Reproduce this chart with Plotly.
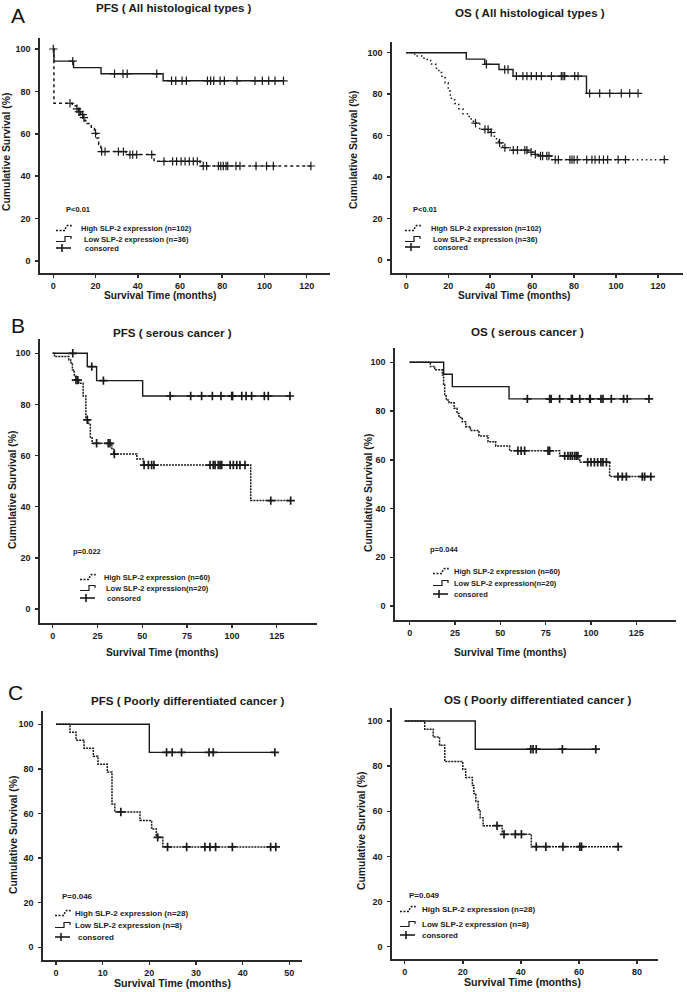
import plotly.graph_objects as go

W, H = 687, 992
FONT = "Liberation Sans, Arial, sans-serif"

# ------------------------------------------------------------------ data
# Panel A  PFS (All histological types)
a_pfs_low_t = [0, 0.3, 9.6, 22.6, 52.0]
a_pfs_low_s = [100, 94.3, 91.2, 88.3, 85.0]
a_pfs_low_end = 109
a_pfs_low_cens = [0, 9.2, 29, 33, 35, 49, 56, 58, 61, 63, 73, 74.5, 76, 79, 81,
                  87, 95.5, 99, 102, 105, 109]
a_pfs_high_t = [0, 0.3, 9, 11, 12, 13, 14, 15, 16, 18, 19.5, 20.5, 21.5, 22.5, 34.4, 47.7, 69.5]
a_pfs_high_s = [100, 74.4, 73.2, 71.8, 70.4, 69.0, 67.6, 66.2, 64.8, 62.5, 60.2, 58.0, 55.0,
                51.6, 50.2, 47.0, 44.8]
a_pfs_high_end = 122
a_pfs_high_cens = [7.9, 11.2, 12.1, 12.6, 13.9, 14.5, 20, 22.9, 24.5, 30.8, 33.2, 36.3, 37.6,
                   39.5, 46.6, 52.4, 56.5, 58.4, 60.5, 62.4, 64.4, 66.3, 68.2, 71, 72.6, 78.2,
                   79.3, 80.5, 81.8, 82.6, 86.5, 88.4, 96, 101, 104.2, 122]

# Panel A  OS (All histological types)
a_os_low_t = [0, 28.6, 37.4, 44.2, 50.9, 85.9]
a_os_low_s = [100, 96.9, 94.4, 91.9, 88.7, 80.4]
a_os_low_end = 110.5
a_os_low_cens = [38.2, 46.9, 48.5, 52.5, 55.6, 57.5, 59.6, 62, 64.4, 69.2, 73.9, 74.7, 75.5,
                 80.3, 81.9, 87.4, 92.2, 97, 102.5, 106.5, 110.5]
a_os_high_t = [0, 4, 8, 10, 12, 14, 15.5, 17, 18.5, 20, 21, 23, 25, 27, 30, 32, 35, 40, 42, 44,
               46, 50, 58, 61, 63, 69]
a_os_high_s = [100, 98.4, 97.3, 96.2, 94.5, 92.5, 90.5, 88.0, 85.5, 81.5, 78.0, 75.5, 73.0,
               70.5, 68.0, 66.0, 63.0, 61.5, 58.5, 56.5, 54.2, 53.0, 52.0, 51.0, 50.2, 48.4]
a_os_high_end = 123
a_os_high_cens = [33, 37.5, 39, 40.5, 44.5, 47, 51, 53, 56.5, 57.5, 59.5, 61.5, 64, 65, 67, 68,
                  71, 72.5, 78, 79, 80, 81.5, 86, 88.5, 90, 92, 94, 96, 101, 104.5, 123]

# Panel B  PFS (serous cancer)
b_pfs_low_t = [0, 19.3, 24.5, 50.2]
b_pfs_low_s = [100, 94.8, 89.3, 83.3]
b_pfs_low_end = 132.4
b_pfs_low_cens = [11.2, 21.8, 28.3, 65.5, 77, 83.1, 89.1, 93.9, 99.9, 100.4, 105.5, 107.9,
                  111, 118.1, 120.3, 132.4]
b_pfs_high_t = [0, 1, 9, 10, 11, 12, 13, 14.5, 17, 18.5, 20, 21, 22, 33, 34, 47, 50.6, 110.5]
b_pfs_high_s = [100, 98.7, 97.5, 96.3, 93.5, 91.0, 89.5, 88.3, 83.3, 74.0, 72.5, 67.0, 64.8,
                62.5, 60.6, 58.7, 56.3, 42.4]
b_pfs_high_end = 132.8
b_pfs_high_cens = [13, 14, 19.3, 24.5, 31, 32, 34.4, 51, 53.4, 55.2, 56.5, 87.8, 89.6, 90.6,
                   92.4, 93.4, 94.3, 99, 100.8, 102.7, 104.5, 107.3, 121.7, 132.8]

# Panel B  OS (serous cancer)
b_os_low_t = [0, 18.75, 23.5, 54.8]
b_os_low_s = [100, 95.1, 90.0, 85.0]
b_os_low_end = 132
b_os_low_cens = [64.9, 77.2, 78, 82.7, 89.2, 89.7, 93.8, 99.3, 99.6, 105.5, 106.6, 111.2, 118,
                 120, 132]
b_os_high_t = [0, 11.4, 13.8, 18, 18.7, 19.3, 20.2, 21.7, 24.5, 26.1, 27.2, 29, 30.9, 33.5,
               38.2, 43.2, 47.4, 55.1, 82.7, 93.8, 110.3]
b_os_high_s = [100, 98.3, 96.9, 94.8, 91.0, 86.2, 84.5, 83.4, 81.1, 79.0, 77.4, 75.6, 73.6,
               72.0, 69.8, 67.4, 65.7, 63.7, 61.6, 59.0, 53.1]
b_os_high_end = 133
b_os_high_cens = [59.7, 61.5, 63.4, 76.3, 77.2, 85.5, 87.3, 88.6, 89.7, 91, 91.9, 92.8, 98.2,
                  100, 101.9, 103.7, 105.5, 106.6, 108.5, 114.9, 117.3, 119.5, 128.3, 129.6, 133]

# Panel C  PFS (Poorly differentiated cancer)
c_pfs_low_t = [0, 20]
c_pfs_low_s = [100, 87.4]
c_pfs_low_end = 46.9
c_pfs_low_cens = [23.7, 24.9, 26.9, 32.8, 33.7, 46.9]
c_pfs_high_t = [0, 3, 4.3, 6, 8, 9, 11, 12, 12.6, 18, 20.5, 21.5, 22.9]
c_pfs_high_s = [100, 96.4, 92.9, 89.3, 85.7, 82.1, 78.6, 64.3, 60.7, 56.9, 53.1, 49.3, 45.0]
c_pfs_high_end = 47.1
c_pfs_high_cens = [13.9, 21.8, 23.9, 28, 31.9, 33, 34.2, 37.8, 46, 47.1]

# Panel C  OS (Poorly differentiated cancer)
c_os_low_t = [0, 24.3]
c_os_low_s = [100, 87.5]
c_os_low_end = 65.8
c_os_low_cens = [43.4, 44.2, 45.3, 54.3, 65.8]
c_os_high_t = [0, 6.9, 9.8, 12, 13.8, 20, 21, 23.3, 23.8, 24.5, 25.3, 26, 27, 33.6, 43.6]
c_os_high_s = [100, 96.4, 92.9, 89.3, 82.1, 78.6, 75.0, 71.4, 67.9, 64.3, 60.7, 57.1, 53.6,
               49.8, 44.3]
c_os_high_end = 73.5
c_os_high_cens = [31.8, 34.2, 38.1, 40.2, 45.3, 48.6, 54.5, 60.3, 60.9, 73.5]

# text
titles = ["PFS ( All histological types )", "OS ( All histological types )",
          "PFS ( serous cancer )", "OS ( serous cancer )",
          "PFS ( Poorly differentiated cancer )", "OS ( Poorly differentiated cancer )"]
pvals = ["P<0.01", "P<0.01", "p=0.022", "p=0.044", "P=0.046", "P=0.049"]
leg_high = ["High SLP-2 expression (n=102)", "High SLP-2 expression (n=102)",
            "High SLP-2 expression (n=60)", "High SLP-2 expression (n=60)",
            "High SLP-2 expression (n=28)", "High SLP-2 expression (n=28)"]
leg_low = ["Low SLP-2 expression (n=36)", "Low SLP-2 expression (n=36)",
           "Low SLP-2 expression(n=20)", "Low SLP-2 expression(n=20)",
           "Low SLP-2 expression (n=8)", "Low SLP-2 expression (n=8)"]
leg_cens = "consored"
x_label = "Survival Time (months)"
y_label = "Cumulative Survival (%)"
y_ticks = [0, 20, 40, 60, 80, 100]
x_ticks = [[0, 20, 40, 60, 80, 100, 120], [0, 20, 40, 60, 80, 100, 120],
           [0, 25, 50, 75, 100, 125], [0, 25, 50, 75, 100, 125],
           [0, 10, 20, 30, 40, 50], [0, 20, 40, 60, 80]]
letters = ["A", "B", "C"]

curves = [
    (a_pfs_low_t, a_pfs_low_s, a_pfs_low_end, a_pfs_low_cens,
     a_pfs_high_t, a_pfs_high_s, a_pfs_high_end, a_pfs_high_cens),
    (a_os_low_t, a_os_low_s, a_os_low_end, a_os_low_cens,
     a_os_high_t, a_os_high_s, a_os_high_end, a_os_high_cens),
    (b_pfs_low_t, b_pfs_low_s, b_pfs_low_end, b_pfs_low_cens,
     b_pfs_high_t, b_pfs_high_s, b_pfs_high_end, b_pfs_high_cens),
    (b_os_low_t, b_os_low_s, b_os_low_end, b_os_low_cens,
     b_os_high_t, b_os_high_s, b_os_high_end, b_os_high_cens),
    (c_pfs_low_t, c_pfs_low_s, c_pfs_low_end, c_pfs_low_cens,
     c_pfs_high_t, c_pfs_high_s, c_pfs_high_end, c_pfs_high_cens),
    (c_os_low_t, c_os_low_s, c_os_low_end, c_os_low_cens,
     c_os_high_t, c_os_high_s, c_os_high_end, c_os_high_cens),
]

# ------------------------------------------------------------------ layout (pixels)
panels = [
    dict(box=(40, 330, 38, 273), xcal=((0, 53.3), (120, 306.7)), ycal=(49, 261),
         title=(174, 8), xlab=(160, 296), ylab=(7, 152), p=(64, 210),
         glyph=56, ltx=(79, 82, 83), ly=(228, 239, 248), lfs=7.5, hdash="3px,3px",
         msize=6, mw=1.2),
    dict(box=(392, 683, 42, 273), xcal=((0, 406.3), (120, 658)), ycal=(52.7, 260),
         title=(530, 13), xlab=(514, 296), ylab=(353, 150), p=(411, 209),
         glyph=405, ltx=(429, 431, 432), ly=(228, 239, 247), lfs=7.5, hdash="1.5px,3px",
         msize=6, mw=1.2),
    dict(box=(40, 317, 339, 623), xcal=((0, 52.7), (125, 276.7)), ycal=(353.3, 609),
         title=(172, 332), xlab=(162, 652), ylab=(13, 490), p=(71, 551),
         glyph=80, ltx=(102, 104, 105), ly=(577, 588, 598), lfs=7.5, hdash="2px,1px",
         msize=6, mw=1.7),
    dict(box=(395, 676, 348, 620), xcal=((0, 409.7), (125, 636.3)), ycal=(362.3, 606),
         title=(527, 331), xlab=(510, 652), ylab=(368, 493), p=(428, 549),
         glyph=433, ltx=(452, 452, 452), ly=(571, 583, 594), lfs=7.5, hdash="2px,1px",
         msize=6, mw=1.7),
    dict(box=(43, 302, 711, 960), xcal=((0, 56), (50, 289.3)), ycal=(724.3, 947.3),
         title=(187, 700), xlab=(172, 983), ylab=(13, 835), p=(60, 896),
         glyph=55, ltx=(73, 73, 76), ly=(913, 925, 937), lfs=8, hdash="2px,1px",
         msize=6, mw=1.7),
    dict(box=(392, 658, 708, 959), xcal=((0, 404.7), (80, 637)), ycal=(721, 946.7),
         title=(538, 699), xlab=(522, 982), ylab=(361, 831), p=(407, 895),
         glyph=400, ltx=(420, 420, 420), ly=(909, 924, 935), lfs=8, hdash="2px,1px",
         msize=6, mw=1.7),
]
letter_pos = [(18, 15), (18, 325), (15, 692)]

INK = "#1a1a1a"


def px(x):
    return x / W


def py(y):
    return 1 - y / H


def surv_at(t, s, c):
    val = s[0]
    for ti, si in zip(t, s):
        if ti <= c:
            val = si
    return val


fig = go.Figure()
annotations = []
shapes = []

for i, (pan, cur) in enumerate(zip(panels, curves)):
    lt, ls, lend, lc, ht, hs, hend, hc = cur
    k = "" if i == 0 else str(i + 1)
    xa, ya = "x" + k, "y" + k

    (v0, p0), (v1, p1) = pan["xcal"]
    sx = (p1 - p0) / (v1 - v0)
    left, right, top, bottom = pan["box"]
    xr = [v0 + (left - p0) / sx, v0 + (right - p0) / sx]
    y100, y0 = pan["ycal"]
    sy = (y0 - y100) / 100.0
    yr = [(y0 - bottom) / sy, (y0 - top) / sy]

    axis_common = dict(showline=True, linewidth=1.6, linecolor="#2a2a2a", ticks="outside",
                       ticklen=3, tickwidth=1.5, tickcolor="#2a2a2a", showgrid=False,
                       zeroline=False, tickfont=dict(family=FONT, size=9, color=INK, weight="bold"),
                       fixedrange=True)
    fig.update_layout(**{
        "xaxis" + k: dict(domain=[px(left), px(right)], range=xr, anchor=ya,
                          tickmode="array", tickvals=x_ticks[i], ticklabelstandoff=1,
                          **axis_common),
        "yaxis" + k: dict(domain=[py(bottom), py(top)], range=yr, anchor=xa,
                          tickmode="array", tickvals=y_ticks, ticklabelstandoff=3,
                          **axis_common),
    })

    fig.add_trace(go.Scatter(x=list(ht) + [hend], y=list(hs) + [hs[-1]], mode="lines",
                             line=dict(shape="hv", color=INK, width=1.5, dash=pan["hdash"]),
                             xaxis=xa, yaxis=ya, showlegend=False, hoverinfo="skip"))
    fig.add_trace(go.Scatter(x=list(lt) + [lend], y=list(ls) + [ls[-1]], mode="lines",
                             line=dict(shape="hv", color=INK, width=1.4),
                             xaxis=xa, yaxis=ya, showlegend=False, hoverinfo="skip"))
    for tt, ss, cc in ((ht, hs, hc), (lt, ls, lc)):
        fig.add_trace(go.Scatter(x=cc, y=[surv_at(tt, ss, c) for c in cc], mode="markers",
                                 marker=dict(symbol="cross-thin", size=pan["msize"],
                                             line=dict(color=INK, width=pan["mw"])),
                                 xaxis=xa, yaxis=ya, showlegend=False, hoverinfo="skip"))

    tx, ty = pan["title"]
    annotations.append(dict(x=px(tx), y=py(ty), xref="paper", yref="paper", text=titles[i],
                            showarrow=False, xanchor="center", yanchor="middle",
                            font=dict(family=FONT, size=11.6, color=INK, weight="bold")))
    lx, ly = pan["xlab"]
    annotations.append(dict(x=px(lx), y=py(ly), xref="paper", yref="paper", text=x_label,
                            showarrow=False, xanchor="center", yanchor="middle",
                            font=dict(family=FONT, size=10.2 if i < 4 else 10.6, color=INK,
                                      weight="bold")))
    yx, yy = pan["ylab"]
    annotations.append(dict(x=px(yx), y=py(yy), xref="paper", yref="paper", text=y_label,
                            showarrow=False, xanchor="center", yanchor="middle", textangle=-90,
                            font=dict(family=FONT, size=10.4, color=INK, weight="bold")))
    pxx, pyy = pan["p"]
    annotations.append(dict(x=px(pxx), y=py(pyy), xref="paper", yref="paper", text=pvals[i],
                            showarrow=False, xanchor="left", yanchor="middle",
                            font=dict(family=FONT, size=pan["lfs"], color=INK, weight="bold")))
    for txt, ltx, lyy in zip((leg_high[i], leg_low[i], leg_cens), pan["ltx"], pan["ly"]):
        annotations.append(dict(x=px(ltx), y=py(lyy), xref="paper", yref="paper", text=txt,
                                showarrow=False, xanchor="left", yanchor="middle",
                                font=dict(family=FONT, size=pan["lfs"], color=INK,
                                          weight="bold")))

    g = pan["glyph"]
    yh, yl, yc = pan["ly"]
    path_h = (f"M {px(g)},{py(yh + 2.5)} L {px(g + 9)},{py(yh + 2.5)} "
              f"L {px(g + 10)},{py(yh - 1.5)} L {px(g + 11.5)},{py(yh - 2.5)} "
              f"L {px(g + 15)},{py(yh - 2.5)} L {px(g + 15)},{py(yh)}")
    shapes.append(dict(type="path", path=path_h, xref="paper", yref="paper",
                       line=dict(color=INK, width=1.5, dash="2px,1.5px")))
    path_l = (f"M {px(g)},{py(yl + 2.5)} L {px(g + 9)},{py(yl + 2.5)} "
              f"L {px(g + 9)},{py(yl - 2.5)} L {px(g + 15)},{py(yl - 2.5)} "
              f"L {px(g + 15)},{py(yl)}")
    shapes.append(dict(type="path", path=path_l, xref="paper", yref="paper",
                       line=dict(color=INK, width=1.2)))
    shapes.append(dict(type="line", x0=px(g), x1=px(g + 15), y0=py(yc), y1=py(yc),
                       xref="paper", yref="paper", line=dict(color=INK, width=1.6)))
    shapes.append(dict(type="line", x0=px(g + 6), x1=px(g + 6), y0=py(yc - 4), y1=py(yc + 4),
                       xref="paper", yref="paper", line=dict(color=INK, width=1.6)))

for letter, (lx, ly) in zip(letters, letter_pos):
    annotations.append(dict(x=px(lx), y=py(ly), xref="paper", yref="paper", text=letter,
                            showarrow=False, xanchor="center", yanchor="middle",
                            font=dict(family=FONT, size=21, color="#111")))

fig.update_layout(width=W, height=H, margin=dict(l=0, r=0, t=0, b=0),
                  paper_bgcolor="white", plot_bgcolor="white", showlegend=False,
                  annotations=annotations, shapes=shapes)

fig.write_html("out.html", config={"displayModeBar": False, "staticPlot": True},
               post_script="document.body.style.margin='0';document.body.style.overflow='hidden';")
